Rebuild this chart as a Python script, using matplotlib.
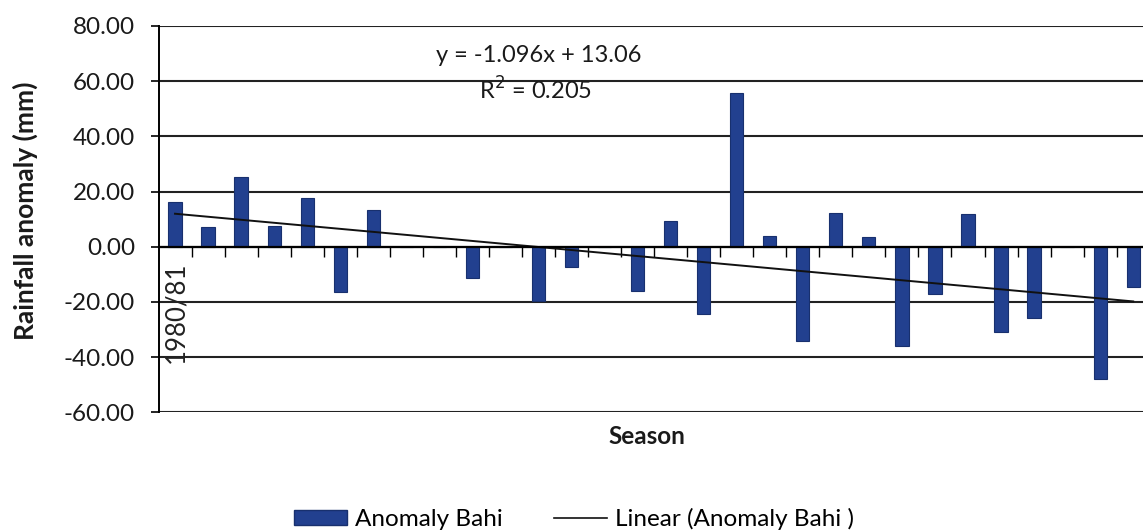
import matplotlib
matplotlib.use("Agg")
import matplotlib.pyplot as plt
from matplotlib.patches import Patch
from matplotlib.lines import Line2D
from matplotlib.ticker import FormatStrFormatter
import numpy as np

plt.rcParams['font.family'] = ['Lato', 'DejaVu Sans']

# seasons 1980/81 .. 2009/10 (only the first one is labelled in the chart)
seasons = ['1980/81', '1981/82', '1982/83', '1983/84', '1984/85', '1985/86',
           '1986/87', '1987/88', '1988/89', '1989/90', '1990/91', '1991/92',
           '1992/93', '1993/94', '1994/95', '1995/96', '1996/97', '1997/98',
           '1998/99', '1999/00', '2000/01', '2001/02', '2002/03', '2003/04',
           '2004/05', '2005/06', '2006/07', '2007/08', '2008/09', '2009/10']
anomaly = [16.1, 7.0, 25.4, 7.4, 17.8, -16.3, 13.3, 0.0, 0.0, -11.5,
           0.0, -19.7, -7.5, 0.0, -15.9, 9.5, -24.2, 55.6, 4.0, -34.0,
           12.4, 3.4, -36.1, -17.3, 11.9, -30.9, -26.0, 0.0, -48.1, -14.6]

# trendline as reported in the chart
slope = -1.096
intercept = 13.06
r_squared = 0.205

bar_color = '#22408f'
grid_color = '#222222'

fig = plt.figure(figsize=(11.43, 5.32), dpi=100)
ax = fig.add_axes([158.5 / 1143, 1 - 412.3 / 532,
                   (1149.7 - 158.5) / 1143, (412.3 - 26) / 532])

x = np.arange(len(seasons))
ax.bar(x, anomaly, width=0.4, color=bar_color, edgecolor='#18306e',
       linewidth=0.8, zorder=3)

# linear trend (Excel numbers its categories from 1)
trend = slope * (x + 1) + intercept
ax.plot(x, trend, color='#111111', lw=1.4, zorder=4)

ax.set_xlim(-0.5, len(seasons) - 0.5)
ax.set_ylim(-60, 80)
ax.set_yticks(np.arange(-60, 81, 20))
ax.yaxis.set_major_formatter(FormatStrFormatter('%.2f'))
ax.yaxis.grid(True, color=grid_color, lw=1.5, zorder=1)

# category axis crosses at zero, ticks between categories
ax.spines['bottom'].set_position(('data', 0))
ax.spines['bottom'].set_linewidth(1.6)
ax.spines['bottom'].set_zorder(5)
ax.set_xticks(np.arange(0.5, len(seasons) - 0.5, 1))
ax.tick_params(axis='x', direction='out', length=7, width=1, labelbottom=False)
ax.spines['top'].set_visible(False)
ax.spines['right'].set_visible(False)
ax.spines['left'].set_linewidth(1.4)
ax.tick_params(axis='y', direction='out', length=6, width=1.2,
               labelsize=17.5, pad=11, labelcolor='#1a1a1a')

ax.text(0.02, -5.5, seasons[0], rotation=90, ha='center', va='top',
        fontsize=18.5, color='#222222')

fig.text(25 / 1143, 1 - 211 / 532, 'Rainfall anomaly (mm)', rotation=90,
         ha='center', va='center', fontsize=19, fontweight='bold',
         color='#1a1a1a')
fig.text(647 / 1143, 1 - 437 / 532, 'Season', ha='center', va='center',
         fontsize=17.5, fontweight='bold', color='#1a1a1a')

fig.text(539 / 1143, 1 - 55 / 532, 'y = %.3fx + %.2f' % (slope, intercept),
         ha='center', va='center', fontsize=17, color='#1a1a1a')
fig.text(535 / 1143, 1 - 90 / 532, 'R$^2$ = %.3f' % r_squared,
         ha='center', va='center', fontsize=17, color='#1a1a1a')

handles = [Patch(facecolor=bar_color, edgecolor='#18306e'),
           Line2D([0], [0], color='#111111', lw=1.2)]
fig.legend(handles, ['Anomaly Bahi', 'Linear (Anomaly Bahi )'], ncol=2,
           loc='center', bbox_to_anchor=(574 / 1143, 1 - 519 / 532),
           frameon=False, fontsize=17.5, handlelength=2.2, handleheight=0.62,
           columnspacing=2.1, handletextpad=0.33, borderpad=0)

fig.savefig('out.png', dpi=100)
